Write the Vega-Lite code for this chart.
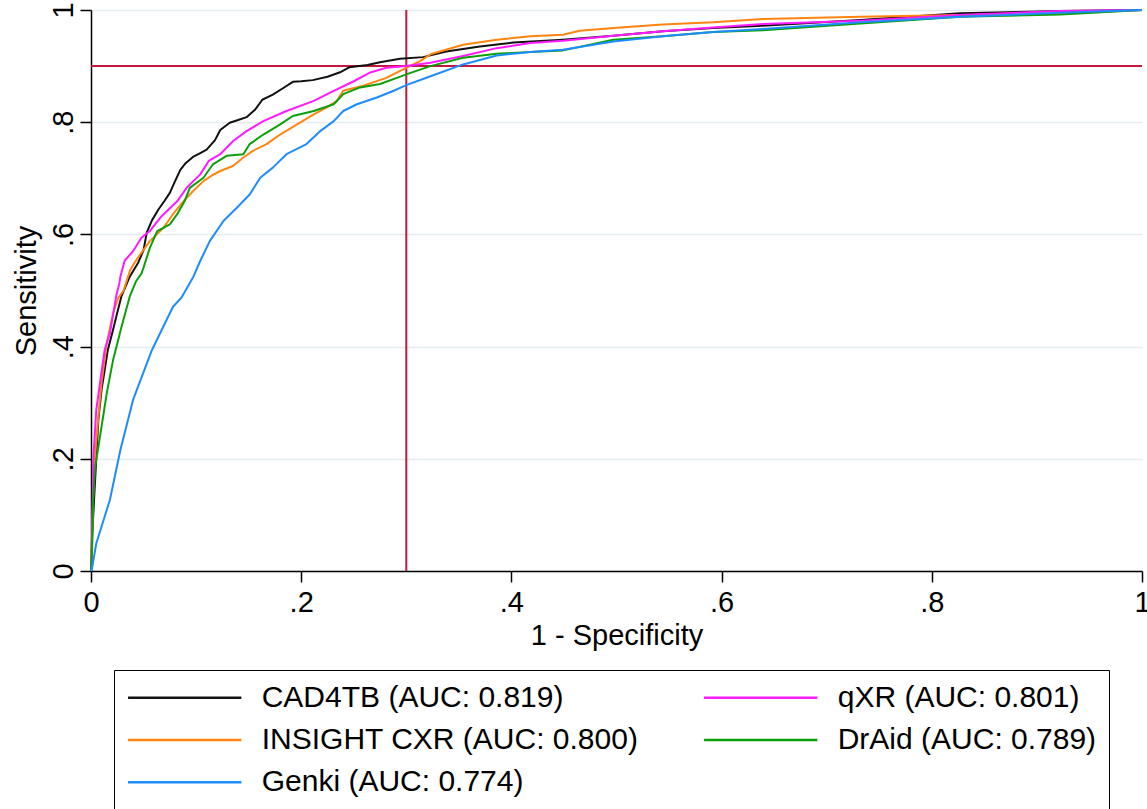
{
  "$schema": "https://vega.github.io/schema/vega-lite/v6.json",
  "width": 1051,
  "height": 561,
  "autosize": "none",
  "padding": {"left": 91, "top": 10, "right": 5, "bottom": 238},
  "background": "white",
  "config": {
    "view": {"stroke": null},
    "font": "Liberation Sans",
    "axis": {"labelFont": "Liberation Sans", "titleFont": "Liberation Sans"},
    "legend": {"labelFont": "Liberation Sans"}
  },
  "data": {"values": [
    {"model": "CAD4TB (AUC: 0.819)", "fpr": 0, "tpr": 0},
    {"model": "CAD4TB (AUC: 0.819)", "fpr": 0.001, "tpr": 0.06},
    {"model": "CAD4TB (AUC: 0.819)", "fpr": 0.003, "tpr": 0.13},
    {"model": "CAD4TB (AUC: 0.819)", "fpr": 0.005, "tpr": 0.2},
    {"model": "CAD4TB (AUC: 0.819)", "fpr": 0.007, "tpr": 0.27},
    {"model": "CAD4TB (AUC: 0.819)", "fpr": 0.01, "tpr": 0.323},
    {"model": "CAD4TB (AUC: 0.819)", "fpr": 0.012, "tpr": 0.346},
    {"model": "CAD4TB (AUC: 0.819)", "fpr": 0.016, "tpr": 0.394},
    {"model": "CAD4TB (AUC: 0.819)", "fpr": 0.021, "tpr": 0.43},
    {"model": "CAD4TB (AUC: 0.819)", "fpr": 0.024, "tpr": 0.453},
    {"model": "CAD4TB (AUC: 0.819)", "fpr": 0.029, "tpr": 0.49},
    {"model": "CAD4TB (AUC: 0.819)", "fpr": 0.037, "tpr": 0.525},
    {"model": "CAD4TB (AUC: 0.819)", "fpr": 0.045, "tpr": 0.55},
    {"model": "CAD4TB (AUC: 0.819)", "fpr": 0.05, "tpr": 0.572},
    {"model": "CAD4TB (AUC: 0.819)", "fpr": 0.053, "tpr": 0.603},
    {"model": "CAD4TB (AUC: 0.819)", "fpr": 0.058, "tpr": 0.625},
    {"model": "CAD4TB (AUC: 0.819)", "fpr": 0.064, "tpr": 0.644},
    {"model": "CAD4TB (AUC: 0.819)", "fpr": 0.07, "tpr": 0.66},
    {"model": "CAD4TB (AUC: 0.819)", "fpr": 0.075, "tpr": 0.674},
    {"model": "CAD4TB (AUC: 0.819)", "fpr": 0.08, "tpr": 0.695},
    {"model": "CAD4TB (AUC: 0.819)", "fpr": 0.085, "tpr": 0.715},
    {"model": "CAD4TB (AUC: 0.819)", "fpr": 0.09, "tpr": 0.727},
    {"model": "CAD4TB (AUC: 0.819)", "fpr": 0.097, "tpr": 0.738},
    {"model": "CAD4TB (AUC: 0.819)", "fpr": 0.104, "tpr": 0.745},
    {"model": "CAD4TB (AUC: 0.819)", "fpr": 0.11, "tpr": 0.751},
    {"model": "CAD4TB (AUC: 0.819)", "fpr": 0.118, "tpr": 0.768},
    {"model": "CAD4TB (AUC: 0.819)", "fpr": 0.123, "tpr": 0.786},
    {"model": "CAD4TB (AUC: 0.819)", "fpr": 0.132, "tpr": 0.799},
    {"model": "CAD4TB (AUC: 0.819)", "fpr": 0.14, "tpr": 0.804},
    {"model": "CAD4TB (AUC: 0.819)", "fpr": 0.148, "tpr": 0.809},
    {"model": "CAD4TB (AUC: 0.819)", "fpr": 0.156, "tpr": 0.822},
    {"model": "CAD4TB (AUC: 0.819)", "fpr": 0.163, "tpr": 0.84},
    {"model": "CAD4TB (AUC: 0.819)", "fpr": 0.173, "tpr": 0.849},
    {"model": "CAD4TB (AUC: 0.819)", "fpr": 0.183, "tpr": 0.861},
    {"model": "CAD4TB (AUC: 0.819)", "fpr": 0.192, "tpr": 0.872},
    {"model": "CAD4TB (AUC: 0.819)", "fpr": 0.2, "tpr": 0.873},
    {"model": "CAD4TB (AUC: 0.819)", "fpr": 0.211, "tpr": 0.875},
    {"model": "CAD4TB (AUC: 0.819)", "fpr": 0.225, "tpr": 0.881},
    {"model": "CAD4TB (AUC: 0.819)", "fpr": 0.237, "tpr": 0.889},
    {"model": "CAD4TB (AUC: 0.819)", "fpr": 0.246, "tpr": 0.898},
    {"model": "CAD4TB (AUC: 0.819)", "fpr": 0.263, "tpr": 0.902},
    {"model": "CAD4TB (AUC: 0.819)", "fpr": 0.275, "tpr": 0.907},
    {"model": "CAD4TB (AUC: 0.819)", "fpr": 0.294, "tpr": 0.913},
    {"model": "CAD4TB (AUC: 0.819)", "fpr": 0.316, "tpr": 0.916},
    {"model": "CAD4TB (AUC: 0.819)", "fpr": 0.338, "tpr": 0.926},
    {"model": "CAD4TB (AUC: 0.819)", "fpr": 0.37, "tpr": 0.935},
    {"model": "CAD4TB (AUC: 0.819)", "fpr": 0.402, "tpr": 0.942},
    {"model": "CAD4TB (AUC: 0.819)", "fpr": 0.449, "tpr": 0.947},
    {"model": "CAD4TB (AUC: 0.819)", "fpr": 0.497, "tpr": 0.954},
    {"model": "CAD4TB (AUC: 0.819)", "fpr": 0.544, "tpr": 0.962},
    {"model": "CAD4TB (AUC: 0.819)", "fpr": 0.592, "tpr": 0.968},
    {"model": "CAD4TB (AUC: 0.819)", "fpr": 0.639, "tpr": 0.972},
    {"model": "CAD4TB (AUC: 0.819)", "fpr": 0.732, "tpr": 0.982},
    {"model": "CAD4TB (AUC: 0.819)", "fpr": 0.827, "tpr": 0.994},
    {"model": "CAD4TB (AUC: 0.819)", "fpr": 0.922, "tpr": 0.998},
    {"model": "CAD4TB (AUC: 0.819)", "fpr": 1, "tpr": 1},

    {"model": "INSIGHT CXR (AUC: 0.800)", "fpr": 0, "tpr": 0},
    {"model": "INSIGHT CXR (AUC: 0.800)", "fpr": 0.001, "tpr": 0.068},
    {"model": "INSIGHT CXR (AUC: 0.800)", "fpr": 0.003, "tpr": 0.186},
    {"model": "INSIGHT CXR (AUC: 0.800)", "fpr": 0.007, "tpr": 0.275},
    {"model": "INSIGHT CXR (AUC: 0.800)", "fpr": 0.01, "tpr": 0.335},
    {"model": "INSIGHT CXR (AUC: 0.800)", "fpr": 0.015, "tpr": 0.406},
    {"model": "INSIGHT CXR (AUC: 0.800)", "fpr": 0.021, "tpr": 0.459},
    {"model": "INSIGHT CXR (AUC: 0.800)", "fpr": 0.026, "tpr": 0.487},
    {"model": "INSIGHT CXR (AUC: 0.800)", "fpr": 0.031, "tpr": 0.5},
    {"model": "INSIGHT CXR (AUC: 0.800)", "fpr": 0.037, "tpr": 0.535},
    {"model": "INSIGHT CXR (AUC: 0.800)", "fpr": 0.041, "tpr": 0.548},
    {"model": "INSIGHT CXR (AUC: 0.800)", "fpr": 0.047, "tpr": 0.565},
    {"model": "INSIGHT CXR (AUC: 0.800)", "fpr": 0.056, "tpr": 0.588},
    {"model": "INSIGHT CXR (AUC: 0.800)", "fpr": 0.069, "tpr": 0.612},
    {"model": "INSIGHT CXR (AUC: 0.800)", "fpr": 0.078, "tpr": 0.636},
    {"model": "INSIGHT CXR (AUC: 0.800)", "fpr": 0.088, "tpr": 0.659},
    {"model": "INSIGHT CXR (AUC: 0.800)", "fpr": 0.097, "tpr": 0.677},
    {"model": "INSIGHT CXR (AUC: 0.800)", "fpr": 0.107, "tpr": 0.695},
    {"model": "INSIGHT CXR (AUC: 0.800)", "fpr": 0.115, "tpr": 0.705},
    {"model": "INSIGHT CXR (AUC: 0.800)", "fpr": 0.123, "tpr": 0.713},
    {"model": "INSIGHT CXR (AUC: 0.800)", "fpr": 0.135, "tpr": 0.722},
    {"model": "INSIGHT CXR (AUC: 0.800)", "fpr": 0.145, "tpr": 0.737},
    {"model": "INSIGHT CXR (AUC: 0.800)", "fpr": 0.154, "tpr": 0.749},
    {"model": "INSIGHT CXR (AUC: 0.800)", "fpr": 0.167, "tpr": 0.761},
    {"model": "INSIGHT CXR (AUC: 0.800)", "fpr": 0.18, "tpr": 0.778},
    {"model": "INSIGHT CXR (AUC: 0.800)", "fpr": 0.196, "tpr": 0.796},
    {"model": "INSIGHT CXR (AUC: 0.800)", "fpr": 0.212, "tpr": 0.814},
    {"model": "INSIGHT CXR (AUC: 0.800)", "fpr": 0.224, "tpr": 0.826},
    {"model": "INSIGHT CXR (AUC: 0.800)", "fpr": 0.234, "tpr": 0.838},
    {"model": "INSIGHT CXR (AUC: 0.800)", "fpr": 0.24, "tpr": 0.856},
    {"model": "INSIGHT CXR (AUC: 0.800)", "fpr": 0.259, "tpr": 0.865},
    {"model": "INSIGHT CXR (AUC: 0.800)", "fpr": 0.281, "tpr": 0.879},
    {"model": "INSIGHT CXR (AUC: 0.800)", "fpr": 0.297, "tpr": 0.894},
    {"model": "INSIGHT CXR (AUC: 0.800)", "fpr": 0.313, "tpr": 0.909},
    {"model": "INSIGHT CXR (AUC: 0.800)", "fpr": 0.323, "tpr": 0.921},
    {"model": "INSIGHT CXR (AUC: 0.800)", "fpr": 0.354, "tpr": 0.938},
    {"model": "INSIGHT CXR (AUC: 0.800)", "fpr": 0.386, "tpr": 0.947},
    {"model": "INSIGHT CXR (AUC: 0.800)", "fpr": 0.418, "tpr": 0.953},
    {"model": "INSIGHT CXR (AUC: 0.800)", "fpr": 0.449, "tpr": 0.956},
    {"model": "INSIGHT CXR (AUC: 0.800)", "fpr": 0.465, "tpr": 0.963},
    {"model": "INSIGHT CXR (AUC: 0.800)", "fpr": 0.497, "tpr": 0.968},
    {"model": "INSIGHT CXR (AUC: 0.800)", "fpr": 0.544, "tpr": 0.974},
    {"model": "INSIGHT CXR (AUC: 0.800)", "fpr": 0.592, "tpr": 0.978},
    {"model": "INSIGHT CXR (AUC: 0.800)", "fpr": 0.639, "tpr": 0.984},
    {"model": "INSIGHT CXR (AUC: 0.800)", "fpr": 0.732, "tpr": 0.988},
    {"model": "INSIGHT CXR (AUC: 0.800)", "fpr": 0.827, "tpr": 0.991},
    {"model": "INSIGHT CXR (AUC: 0.800)", "fpr": 0.922, "tpr": 0.993},
    {"model": "INSIGHT CXR (AUC: 0.800)", "fpr": 1, "tpr": 1},

    {"model": "qXR (AUC: 0.801)", "fpr": 0, "tpr": 0},
    {"model": "qXR (AUC: 0.801)", "fpr": 0.001, "tpr": 0.037},
    {"model": "qXR (AUC: 0.801)", "fpr": 0.002, "tpr": 0.193},
    {"model": "qXR (AUC: 0.801)", "fpr": 0.005, "tpr": 0.287},
    {"model": "qXR (AUC: 0.801)", "fpr": 0.013, "tpr": 0.394},
    {"model": "qXR (AUC: 0.801)", "fpr": 0.018, "tpr": 0.424},
    {"model": "qXR (AUC: 0.801)", "fpr": 0.024, "tpr": 0.49},
    {"model": "qXR (AUC: 0.801)", "fpr": 0.027, "tpr": 0.513},
    {"model": "qXR (AUC: 0.801)", "fpr": 0.028, "tpr": 0.525},
    {"model": "qXR (AUC: 0.801)", "fpr": 0.032, "tpr": 0.553},
    {"model": "qXR (AUC: 0.801)", "fpr": 0.04, "tpr": 0.57},
    {"model": "qXR (AUC: 0.801)", "fpr": 0.048, "tpr": 0.594},
    {"model": "qXR (AUC: 0.801)", "fpr": 0.056, "tpr": 0.606},
    {"model": "qXR (AUC: 0.801)", "fpr": 0.066, "tpr": 0.63},
    {"model": "qXR (AUC: 0.801)", "fpr": 0.082, "tpr": 0.659},
    {"model": "qXR (AUC: 0.801)", "fpr": 0.091, "tpr": 0.683},
    {"model": "qXR (AUC: 0.801)", "fpr": 0.104, "tpr": 0.707},
    {"model": "qXR (AUC: 0.801)", "fpr": 0.112, "tpr": 0.731},
    {"model": "qXR (AUC: 0.801)", "fpr": 0.123, "tpr": 0.743},
    {"model": "qXR (AUC: 0.801)", "fpr": 0.135, "tpr": 0.766},
    {"model": "qXR (AUC: 0.801)", "fpr": 0.148, "tpr": 0.784},
    {"model": "qXR (AUC: 0.801)", "fpr": 0.164, "tpr": 0.802},
    {"model": "qXR (AUC: 0.801)", "fpr": 0.186, "tpr": 0.82},
    {"model": "qXR (AUC: 0.801)", "fpr": 0.212, "tpr": 0.838},
    {"model": "qXR (AUC: 0.801)", "fpr": 0.231, "tpr": 0.856},
    {"model": "qXR (AUC: 0.801)", "fpr": 0.25, "tpr": 0.873},
    {"model": "qXR (AUC: 0.801)", "fpr": 0.265, "tpr": 0.888},
    {"model": "qXR (AUC: 0.801)", "fpr": 0.281, "tpr": 0.897},
    {"model": "qXR (AUC: 0.801)", "fpr": 0.3, "tpr": 0.9},
    {"model": "qXR (AUC: 0.801)", "fpr": 0.323, "tpr": 0.906},
    {"model": "qXR (AUC: 0.801)", "fpr": 0.354, "tpr": 0.918},
    {"model": "qXR (AUC: 0.801)", "fpr": 0.386, "tpr": 0.932},
    {"model": "qXR (AUC: 0.801)", "fpr": 0.418, "tpr": 0.941},
    {"model": "qXR (AUC: 0.801)", "fpr": 0.449, "tpr": 0.945},
    {"model": "qXR (AUC: 0.801)", "fpr": 0.497, "tpr": 0.954},
    {"model": "qXR (AUC: 0.801)", "fpr": 0.544, "tpr": 0.962},
    {"model": "qXR (AUC: 0.801)", "fpr": 0.592, "tpr": 0.969},
    {"model": "qXR (AUC: 0.801)", "fpr": 0.639, "tpr": 0.975},
    {"model": "qXR (AUC: 0.801)", "fpr": 0.732, "tpr": 0.981},
    {"model": "qXR (AUC: 0.801)", "fpr": 0.827, "tpr": 0.991},
    {"model": "qXR (AUC: 0.801)", "fpr": 0.922, "tpr": 0.998},
    {"model": "qXR (AUC: 0.801)", "fpr": 1, "tpr": 1},

    {"model": "DrAid (AUC: 0.789)", "fpr": 0, "tpr": 0},
    {"model": "DrAid (AUC: 0.789)", "fpr": 0.001, "tpr": 0.037},
    {"model": "DrAid (AUC: 0.789)", "fpr": 0.002, "tpr": 0.127},
    {"model": "DrAid (AUC: 0.789)", "fpr": 0.004, "tpr": 0.186},
    {"model": "DrAid (AUC: 0.789)", "fpr": 0.009, "tpr": 0.245},
    {"model": "DrAid (AUC: 0.789)", "fpr": 0.015, "tpr": 0.317},
    {"model": "DrAid (AUC: 0.789)", "fpr": 0.021, "tpr": 0.376},
    {"model": "DrAid (AUC: 0.789)", "fpr": 0.029, "tpr": 0.435},
    {"model": "DrAid (AUC: 0.789)", "fpr": 0.037, "tpr": 0.49},
    {"model": "DrAid (AUC: 0.789)", "fpr": 0.043, "tpr": 0.517},
    {"model": "DrAid (AUC: 0.789)", "fpr": 0.048, "tpr": 0.53},
    {"model": "DrAid (AUC: 0.789)", "fpr": 0.05, "tpr": 0.541},
    {"model": "DrAid (AUC: 0.789)", "fpr": 0.056, "tpr": 0.576},
    {"model": "DrAid (AUC: 0.789)", "fpr": 0.063, "tpr": 0.606},
    {"model": "DrAid (AUC: 0.789)", "fpr": 0.075, "tpr": 0.618},
    {"model": "DrAid (AUC: 0.789)", "fpr": 0.082, "tpr": 0.636},
    {"model": "DrAid (AUC: 0.789)", "fpr": 0.089, "tpr": 0.659},
    {"model": "DrAid (AUC: 0.789)", "fpr": 0.094, "tpr": 0.683},
    {"model": "DrAid (AUC: 0.789)", "fpr": 0.107, "tpr": 0.701},
    {"model": "DrAid (AUC: 0.789)", "fpr": 0.116, "tpr": 0.725},
    {"model": "DrAid (AUC: 0.789)", "fpr": 0.129, "tpr": 0.74},
    {"model": "DrAid (AUC: 0.789)", "fpr": 0.145, "tpr": 0.743},
    {"model": "DrAid (AUC: 0.789)", "fpr": 0.151, "tpr": 0.761},
    {"model": "DrAid (AUC: 0.789)", "fpr": 0.164, "tpr": 0.778},
    {"model": "DrAid (AUC: 0.789)", "fpr": 0.18, "tpr": 0.796},
    {"model": "DrAid (AUC: 0.789)", "fpr": 0.192, "tpr": 0.811},
    {"model": "DrAid (AUC: 0.789)", "fpr": 0.212, "tpr": 0.82},
    {"model": "DrAid (AUC: 0.789)", "fpr": 0.231, "tpr": 0.832},
    {"model": "DrAid (AUC: 0.789)", "fpr": 0.24, "tpr": 0.85},
    {"model": "DrAid (AUC: 0.789)", "fpr": 0.256, "tpr": 0.862},
    {"model": "DrAid (AUC: 0.789)", "fpr": 0.275, "tpr": 0.868},
    {"model": "DrAid (AUC: 0.789)", "fpr": 0.291, "tpr": 0.879},
    {"model": "DrAid (AUC: 0.789)", "fpr": 0.304, "tpr": 0.888},
    {"model": "DrAid (AUC: 0.789)", "fpr": 0.323, "tpr": 0.9},
    {"model": "DrAid (AUC: 0.789)", "fpr": 0.354, "tpr": 0.915},
    {"model": "DrAid (AUC: 0.789)", "fpr": 0.386, "tpr": 0.922},
    {"model": "DrAid (AUC: 0.789)", "fpr": 0.418, "tpr": 0.925},
    {"model": "DrAid (AUC: 0.789)", "fpr": 0.449, "tpr": 0.928},
    {"model": "DrAid (AUC: 0.789)", "fpr": 0.497, "tpr": 0.947},
    {"model": "DrAid (AUC: 0.789)", "fpr": 0.544, "tpr": 0.953},
    {"model": "DrAid (AUC: 0.789)", "fpr": 0.592, "tpr": 0.961},
    {"model": "DrAid (AUC: 0.789)", "fpr": 0.639, "tpr": 0.964},
    {"model": "DrAid (AUC: 0.789)", "fpr": 0.732, "tpr": 0.976},
    {"model": "DrAid (AUC: 0.789)", "fpr": 0.827, "tpr": 0.988},
    {"model": "DrAid (AUC: 0.789)", "fpr": 0.922, "tpr": 0.992},
    {"model": "DrAid (AUC: 0.789)", "fpr": 1, "tpr": 1},

    {"model": "Genki (AUC: 0.774)", "fpr": 0, "tpr": 0},
    {"model": "Genki (AUC: 0.774)", "fpr": 0.001, "tpr": 0.005},
    {"model": "Genki (AUC: 0.774)", "fpr": 0.005, "tpr": 0.049},
    {"model": "Genki (AUC: 0.774)", "fpr": 0.018, "tpr": 0.127},
    {"model": "Genki (AUC: 0.774)", "fpr": 0.028, "tpr": 0.216},
    {"model": "Genki (AUC: 0.774)", "fpr": 0.04, "tpr": 0.305},
    {"model": "Genki (AUC: 0.774)", "fpr": 0.058, "tpr": 0.394},
    {"model": "Genki (AUC: 0.774)", "fpr": 0.078, "tpr": 0.471},
    {"model": "Genki (AUC: 0.774)", "fpr": 0.086, "tpr": 0.487},
    {"model": "Genki (AUC: 0.774)", "fpr": 0.097, "tpr": 0.523},
    {"model": "Genki (AUC: 0.774)", "fpr": 0.104, "tpr": 0.553},
    {"model": "Genki (AUC: 0.774)", "fpr": 0.113, "tpr": 0.588},
    {"model": "Genki (AUC: 0.774)", "fpr": 0.126, "tpr": 0.624},
    {"model": "Genki (AUC: 0.774)", "fpr": 0.139, "tpr": 0.648},
    {"model": "Genki (AUC: 0.774)", "fpr": 0.151, "tpr": 0.671},
    {"model": "Genki (AUC: 0.774)", "fpr": 0.161, "tpr": 0.701},
    {"model": "Genki (AUC: 0.774)", "fpr": 0.173, "tpr": 0.719},
    {"model": "Genki (AUC: 0.774)", "fpr": 0.186, "tpr": 0.743},
    {"model": "Genki (AUC: 0.774)", "fpr": 0.205, "tpr": 0.761},
    {"model": "Genki (AUC: 0.774)", "fpr": 0.218, "tpr": 0.784},
    {"model": "Genki (AUC: 0.774)", "fpr": 0.231, "tpr": 0.802},
    {"model": "Genki (AUC: 0.774)", "fpr": 0.24, "tpr": 0.82},
    {"model": "Genki (AUC: 0.774)", "fpr": 0.253, "tpr": 0.832},
    {"model": "Genki (AUC: 0.774)", "fpr": 0.272, "tpr": 0.844},
    {"model": "Genki (AUC: 0.774)", "fpr": 0.288, "tpr": 0.856},
    {"model": "Genki (AUC: 0.774)", "fpr": 0.3, "tpr": 0.866},
    {"model": "Genki (AUC: 0.774)", "fpr": 0.323, "tpr": 0.882},
    {"model": "Genki (AUC: 0.774)", "fpr": 0.354, "tpr": 0.903},
    {"model": "Genki (AUC: 0.774)", "fpr": 0.386, "tpr": 0.919},
    {"model": "Genki (AUC: 0.774)", "fpr": 0.418, "tpr": 0.925},
    {"model": "Genki (AUC: 0.774)", "fpr": 0.449, "tpr": 0.929},
    {"model": "Genki (AUC: 0.774)", "fpr": 0.497, "tpr": 0.944},
    {"model": "Genki (AUC: 0.774)", "fpr": 0.544, "tpr": 0.953},
    {"model": "Genki (AUC: 0.774)", "fpr": 0.592, "tpr": 0.961},
    {"model": "Genki (AUC: 0.774)", "fpr": 0.639, "tpr": 0.966},
    {"model": "Genki (AUC: 0.774)", "fpr": 0.732, "tpr": 0.978},
    {"model": "Genki (AUC: 0.774)", "fpr": 0.827, "tpr": 0.988},
    {"model": "Genki (AUC: 0.774)", "fpr": 0.922, "tpr": 0.995},
    {"model": "Genki (AUC: 0.774)", "fpr": 1, "tpr": 1}
  ]},
  "layer": [
    {
      "data": {"values": [{}]},
      "mark": {"type": "rule", "color": "#c4173c", "strokeWidth": 2},
      "encoding": {"x": {"datum": 0.3, "type": "quantitative"}}
    },
    {
      "data": {"values": [{}]},
      "mark": {"type": "rule", "color": "#c4173c", "strokeWidth": 2},
      "encoding": {"y": {"datum": 0.9, "type": "quantitative"}}
    },
    {
      "mark": {"type": "line", "strokeWidth": 2, "strokeJoin": "round"},
      "encoding": {
        "x": {
          "field": "fpr", "type": "quantitative",
          "scale": {"domain": [0, 1], "nice": false, "zero": false},
          "axis": {
            "values": [0, 0.2, 0.4, 0.6, 0.8, 1],
            "labelExpr": "datum.value == 0 ? '0' : datum.value == 1 ? '1' : replace(format(datum.value, '.1f'), '0.', '.')",
            "title": "1 - Specificity",
            "grid": false,
            "domainColor": "black", "domainWidth": 1.5,
            "tickColor": "black", "tickWidth": 1.5, "tickSize": 11,
            "labelFontSize": 29, "labelColor": "black", "labelPadding": 6, "labelFlush": false,
            "titleFontSize": 29, "titleFontWeight": "normal", "titleColor": "black", "titlePadding": 4
          }
        },
        "y": {
          "field": "tpr", "type": "quantitative",
          "scale": {"domain": [0, 1], "nice": false, "zero": false},
          "axis": {
            "values": [0, 0.2, 0.4, 0.6, 0.8, 1],
            "labelExpr": "datum.value == 0 ? '0' : datum.value == 1 ? '1' : replace(format(datum.value, '.1f'), '0.', '.')",
            "title": "Sensitivity",
            "grid": true, "gridColor": "#e4ecef", "gridWidth": 1.5,
            "domainColor": "black", "domainWidth": 1.5,
            "tickColor": "black", "tickWidth": 1.5, "tickSize": 11,
            "labelFontSize": 29, "labelColor": "black", "labelAngle": -90,
            "labelAlign": "center", "labelBaseline": "bottom", "labelPadding": 2, "labelFlush": false,
            "titleFontSize": 29, "titleFontWeight": "normal", "titleColor": "black", "titlePadding": 8
          }
        },
        "color": {
          "field": "model", "type": "nominal",
          "scale": {
            "domain": ["CAD4TB (AUC: 0.819)", "INSIGHT CXR (AUC: 0.800)", "Genki (AUC: 0.774)", "qXR (AUC: 0.801)", "DrAid (AUC: 0.789)"],
            "range": ["#111111", "#ff8410", "#1e8cff", "#ff1aff", "#0aa00a"]
          },
          "legend": {
            "orient": "none", "legendX": 23, "legendY": 660,
            "columns": 2, "title": null,
            "symbolType": "stroke", "symbolSize": 12840, "symbolStrokeWidth": 2.5,
            "clipHeight": 30, "rowPadding": 12.3, "columnPadding": 64,
            "labelFontSize": 30, "labelColor": "black", "labelOffset": 19, "labelLimit": 600,
            "strokeColor": "black", "padding": 12.7
          }
        }
      }
    }
  ]
}
